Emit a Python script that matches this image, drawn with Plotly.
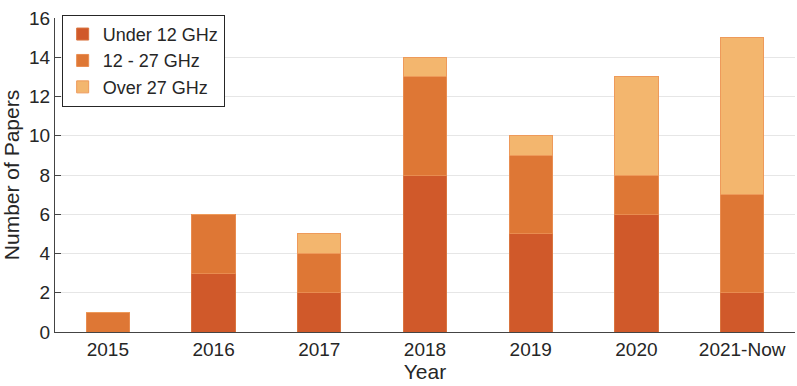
import plotly.graph_objects as go

years = ["2015", "2016", "2017", "2018", "2019", "2020", "2021-Now"]
under_12 = [0, 3, 2, 8, 5, 6, 2]
mid_12_27 = [1, 3, 2, 5, 4, 2, 5]
over_27 = [0, 0, 1, 1, 1, 5, 8]
y_ticks = [0, 2, 4, 6, 8, 10, 12, 14, 16]

series = [
    ("Under 12 GHz", under_12, "#D0592A", "#D9743F"),
    ("12 - 27 GHz", mid_12_27, "#DE7735", "#E88C50"),
    ("Over 27 GHz", over_27, "#F3B66E", "#EE9A5A"),
]

fig = go.Figure()
for name, vals, col, edge in series:
    fig.add_trace(go.Bar(
        x=years, y=vals, name=name,
        marker=dict(color=col, line=dict(color=edge, width=1)),
        width=0.41,
    ))

fig.update_layout(
    barmode="stack",
    width=797, height=386,
    margin=dict(l=55, r=2, t=18, b=54),
    plot_bgcolor="white", paper_bgcolor="white",
    font=dict(family="Liberation Sans, Arial, sans-serif", size=19, color="#262626"),
    legend=dict(
        x=0.009, y=1.01, xanchor="left", yanchor="top",
        bordercolor="#262626", borderwidth=1, bgcolor="white",
        font=dict(size=18), traceorder="normal",
        tracegroupgap=0, itemwidth=30,
    ),
    xaxis=dict(
        title=dict(text="Year", font=dict(size=21), standoff=3),
        showline=True, linecolor="#444444", linewidth=1,
        ticks="", range=[-0.5, 6.5], automargin=False,
    ),
    yaxis=dict(
        title=dict(text="Number of Papers", font=dict(size=21), standoff=8),
        range=[0, 16], tickvals=y_ticks,
        showline=True, linecolor="#444444", linewidth=1,
        ticks="inside", ticklen=6, tickcolor="#444444",
        showgrid=True, gridcolor="#E6E6E6", zeroline=False,
        automargin=False,
    ),
)

fig.write_html("out.html", config={"displayModeBar": False},
               post_script="document.body.style.margin='0';")
